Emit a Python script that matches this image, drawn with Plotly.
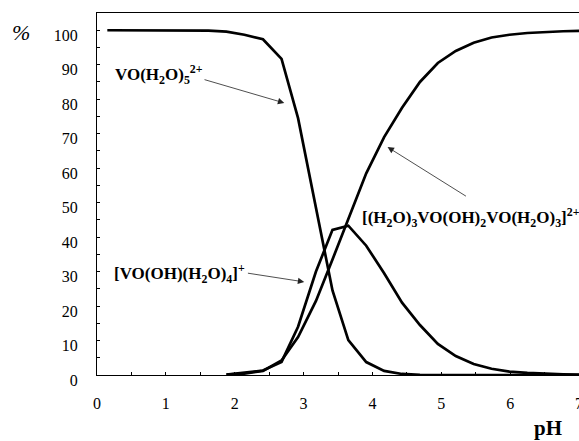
import plotly.graph_objects as go

# pH grid
ph = [0.15, 0.6, 1.1, 1.62, 1.88, 2.14, 2.41, 2.68, 2.92, 3.18, 3.42, 3.65, 3.91,
      4.17, 4.43, 4.69, 4.95, 5.21, 5.47, 5.73, 5.99, 6.25, 6.51, 6.77, 7.0]

# % VO(H2O)5 2+
vo_aqua = [100, 100, 100, 99.9, 99.6, 98.7, 97.4, 91.7, 74.5, 48.5, 24.5, 10.1, 3.75,
           1.2, 0.3, 0.05, 0, 0, 0, 0, 0, 0, 0, 0, 0]
# % [VO(OH)(H2O)4]+
vo_hydroxo = [None, None, None, None, 0.1, 0.6, 1.3, 3.8, 14.0, 30.0, 42.1, 43.3, 37.5,
              29.5, 21.0, 14.5, 9.0, 5.5, 3.2, 1.8, 1.0, 0.6, 0.3, 0.2, 0.1]
# % [(H2O)3VO(OH)2VO(H2O)3]2+
dimer = [None, None, None, None, 0.1, 0.4, 1.2, 4.2, 11.0, 21.5, 33.5, 45.5, 58.5,
         69.0, 77.5, 85.0, 90.5, 94.0, 96.4, 97.9, 98.7, 99.2, 99.5, 99.7, 99.8]

x_ticks = [0, 1, 2, 3, 4, 5, 6, 7]
y_ticks = [0, 10, 20, 30, 40, 50, 60, 70, 80, 90, 100]

LINE = dict(color="black", width=2.7)
FONT = "Liberation Serif, DejaVu Serif, serif"

fig = go.Figure()
for ys in (vo_aqua, vo_hydroxo, dimer):
    fig.add_trace(go.Scatter(x=ph, y=ys, mode="lines", line=LINE, cliponaxis=True,
                             connectgaps=False, showlegend=False, hoverinfo="skip"))

fig.update_layout(
    template="none",
    width=579, height=441,
    margin=dict(l=97, r=0, t=13, b=66, autoexpand=False),
    paper_bgcolor="white", plot_bgcolor="white",
    font=dict(family=FONT, size=16, color="black"),
    showlegend=False,
)
fig.update_xaxes(
    range=[0, 7], tickvals=x_ticks, ticktext=[str(v) for v in x_ticks],
    showline=True, linecolor="black", linewidth=1, mirror=True,
    ticks="inside", ticklen=3, tickcolor="black", tickwidth=1,
    minor=dict(dtick=0.5, ticks="inside", ticklen=3, tickcolor="black"),
    showgrid=False, zeroline=False, ticklabelstandoff=14, automargin=False,
    ticklabeloverflow="allow",
    tickfont=dict(family=FONT, size=16),
)
fig.update_yaxes(
    range=[0, 105], tickvals=y_ticks, ticktext=[str(v) for v in y_ticks],
    showline=True, linecolor="black", linewidth=1, mirror=False,
    ticks="inside", ticklen=3, tickcolor="black", tickwidth=1,
    minor=dict(dtick=5, ticks="inside", ticklen=3, tickcolor="black"),
    showgrid=False, zeroline=False, ticklabelstandoff=15, ticklabelshift=5,
    automargin=False, ticklabeloverflow="allow",
    tickfont=dict(family=FONT, size=16),
)

BOLD = dict(family=FONT, size=17, color="black")
labels = [
    ("<b>VO(H<sub>2</sub>O)<sub>5</sub><sup>2+</sup></b>", 0.033, 0.829),
    ("<b>[VO(OH)(H<sub>2</sub>O)<sub>4</sub>]<sup>+</sup></b>", 0.031, 0.28),
    ("<b>[(H<sub>2</sub>O)<sub>3</sub>VO(OH)<sub>2</sub>VO(H<sub>2</sub>O)<sub>3</sub>]<sup>2+</sup></b>", 0.546, 0.436),
]
for txt, xp, yp in labels:
    fig.add_annotation(text=txt, x=xp, y=yp, xref="paper", yref="paper",
                       xanchor="left", yanchor="middle", showarrow=False, font=BOLD)

arrows = [((2.72, 78.9), (1.54, 85.8)),
          ((3.01, 27.0), (2.17, 29.6)),
          ((4.22, 66.1), (5.38, 51.6))]
for (tx, ty), (sx, sy) in arrows:
    fig.add_annotation(x=tx, y=ty, ax=sx, ay=sy, xref="x", yref="y", axref="x", ayref="y",
                       text="", showarrow=True, arrowhead=2, arrowsize=1.6,
                       arrowwidth=0.8, arrowcolor="#222")

fig.add_annotation(text="<i>%</i>", x=-0.18, y=0.985, xref="paper", yref="paper",
                   showarrow=False, font=dict(family=FONT, size=22, color="black"))
fig.add_annotation(text="<b>pH</b>", x=0.969, y=-0.185, xref="paper", yref="paper",
                   showarrow=False, font=dict(family=FONT, size=21, color="black"))

fig.write_html("out.html", config={"displayModeBar": False},
               post_script="document.body.style.margin='0';document.body.style.overflow='hidden';")
